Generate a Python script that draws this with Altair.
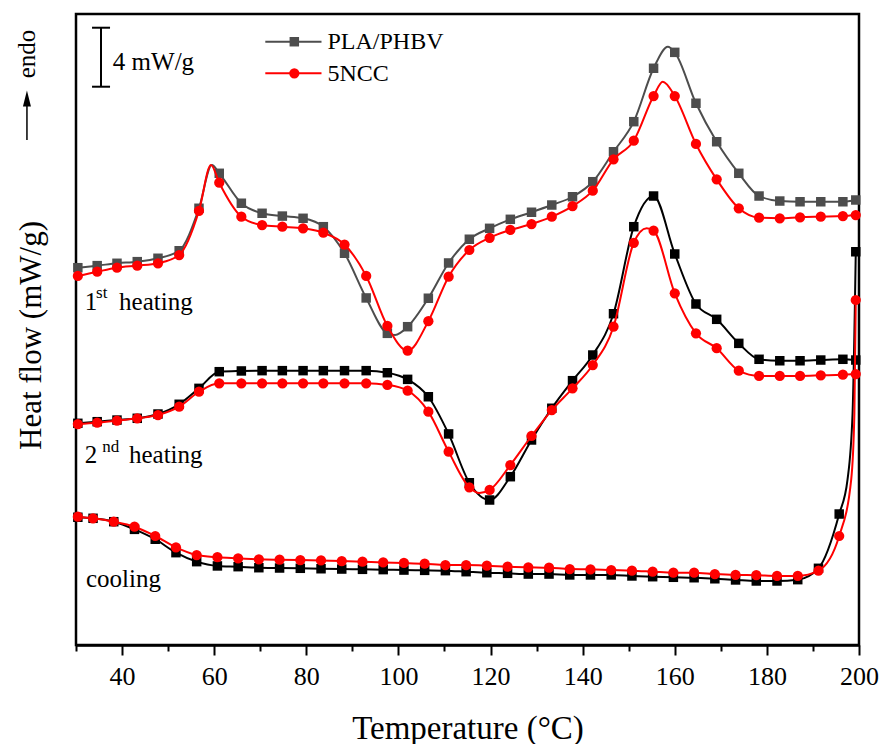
import altair as alt
import pandas as pd

# ---------------- data ----------------
heat_T = [30.4, 34.6, 38.9, 43.3, 47.8, 52.4, 56.7, 61.1, 65.9, 70.4,
          74.8, 79.3, 83.7, 88.3, 93.0, 97.6, 102.0, 106.5, 110.9, 115.4,
          119.8, 124.3, 128.9, 133.3, 137.8, 142.2, 146.7, 151.1, 155.4, 160.0,
          164.6, 169.1, 173.9, 178.3, 182.8, 187.2, 191.7, 196.5, 199.3]

h1_pla = [25.58, 25.72, 25.88, 25.99, 26.22, 26.73, 29.61, 31.98, 29.95, 29.27,
          29.08, 28.93, 28.36, 26.56, 23.53, 21.13, 21.58, 23.51, 25.90, 27.51,
          28.25, 28.86, 29.34, 29.83, 30.39, 31.41, 33.44, 35.48, 39.10, 40.18,
          36.73, 34.12, 31.98, 30.44, 30.10, 30.05, 30.05, 30.05, 30.17]
h1_ncc = [25.02, 25.31, 25.58, 25.72, 25.88, 26.44, 29.44, 31.34, 29.04, 28.47,
          28.36, 28.25, 27.95, 27.15, 25.02, 21.63, 19.95, 21.95, 24.97, 26.78,
          27.61, 28.14, 28.54, 29.04, 29.76, 30.80, 32.93, 34.19, 37.22, 37.22,
          33.97, 31.57, 29.61, 28.97, 28.93, 29.00, 29.04, 29.08, 29.15]
h2_pla = [15.03, 15.14, 15.25, 15.37, 15.66, 16.32, 17.40, 18.53, 18.58, 18.60,
          18.60, 18.60, 18.60, 18.60, 18.60, 18.46, 18.01, 16.83, 14.31, 11.00,
          9.83, 11.41, 13.90, 16.05, 17.92, 19.66, 22.46, 28.36, 30.44, 26.51,
          23.12, 22.08, 20.45, 19.37, 19.27, 19.27, 19.32, 19.37, 19.32]
h2_ncc = [14.98, 15.07, 15.21, 15.37, 15.59, 16.16, 17.17, 17.74, 17.74, 17.74,
          17.74, 17.74, 17.74, 17.74, 17.74, 17.63, 17.24, 15.82, 13.11, 10.69,
          10.51, 12.20, 14.17, 15.93, 17.40, 18.98, 21.58, 27.27, 28.09, 23.84,
          21.13, 20.12, 18.60, 18.24, 18.24, 18.24, 18.28, 18.33, 18.37]

cool_T = [30.4, 33.7, 38.2, 42.7, 47.2, 51.7, 56.2, 60.7, 65.2, 69.7,
          74.2, 78.7, 83.2, 87.7, 92.2, 96.7, 101.2, 105.7, 110.2, 114.7,
          119.2, 123.7, 128.2, 132.7, 137.2, 141.7, 146.2, 150.7, 155.2, 159.7,
          164.2, 168.7, 173.2, 177.7, 182.2, 186.7, 191.2, 195.7, 199.3]
cool_pla = [8.66, 8.59, 8.36, 7.84, 7.17, 6.26, 5.65, 5.36, 5.31, 5.24,
            5.22, 5.20, 5.17, 5.15, 5.13, 5.11, 5.08, 5.06, 5.04, 4.97,
            4.90, 4.86, 4.81, 4.81, 4.75, 4.75, 4.75, 4.68, 4.63, 4.59,
            4.56, 4.49, 4.41, 4.34, 4.34, 4.43, 5.20, 8.88, 26.66]
cool_ncc = [8.70, 8.59, 8.36, 8.02, 7.39, 6.62, 6.10, 5.95, 5.88, 5.81,
            5.78, 5.76, 5.73, 5.69, 5.65, 5.60, 5.56, 5.51, 5.42, 5.42,
            5.38, 5.31, 5.27, 5.24, 5.15, 5.13, 5.08, 5.04, 4.97, 4.90,
            4.90, 4.81, 4.75, 4.73, 4.68, 4.68, 5.04, 7.39, 23.39]

# extra curve points between symbols (peaks, minima, fast rise)
h1_pla_extra_T = [59.5, 99.3, 158.5]
h1_pla_extra_V = [32.54, 21.02, 40.56]
h1_ncc_extra_T = [59.3, 157.4]
h1_ncc_extra_V = [32.54, 38.19]
h2_ncc_extra_T = [117.6, 153.9]
h2_ncc_extra_V = [10.30, 28.25]
cool_pla_extra_T = [197.5, 198.6]
cool_pla_extra_V = [11.2, 15.7]
cool_ncc_extra_T = [198.3, 199.0]
cool_ncc_extra_V = [11.2, 15.7]

PLA_KEYS = ["h1_pla", "h2_pla", "c_pla"]
NCC_KEYS = ["h1_ncc", "h2_ncc", "c_ncc"]
COLORS = {"h1_pla": "#4d4d4d", "h2_pla": "#000000", "c_pla": "#000000",
          "h1_ncc": "#ff0000", "h2_ncc": "#ff0000", "c_ncc": "#ff0000"}

rows = []
def add(key, Ts, Vs, marker):
    for t, v in zip(Ts, Vs):
        rows.append({"series": key, "T": t, "V": v, "marker": marker})

add("h1_pla", heat_T, h1_pla, True)
add("h1_ncc", heat_T, h1_ncc, True)
add("h2_pla", heat_T, h2_pla, True)
add("h2_ncc", heat_T, h2_ncc, True)
add("c_pla", cool_T, cool_pla, True)
add("c_ncc", cool_T, cool_ncc, True)
add("h1_pla", h1_pla_extra_T, h1_pla_extra_V, False)
add("h1_ncc", h1_ncc_extra_T, h1_ncc_extra_V, False)
add("h2_ncc", h2_ncc_extra_T, h2_ncc_extra_V, False)
add("c_pla", cool_pla_extra_T, cool_pla_extra_V, False)
add("c_ncc", cool_ncc_extra_T, cool_ncc_extra_V, False)
df = pd.DataFrame(rows).sort_values(["series", "T"]).reset_index(drop=True)

keys = list(COLORS.keys())
color_scale = alt.Scale(domain=keys, range=[COLORS[k] for k in keys])

FONT = "Liberation Serif"
xs = alt.Scale(domain=[30, 200], nice=False, zero=False)
ys = alt.Scale(domain=[0, 42.78], nice=False, zero=False)

x_enc = alt.X("T:Q", scale=xs, axis=alt.Axis(
    values=list(range(30, 201, 10)),
    labelExpr="datum.value % 20 === 0 ? datum.label : ''",
    tickSize={"condition": {"test": "datum.value % 20 === 0", "value": 10}, "value": 6},
    tickWidth=2, tickColor="black", domainColor="black", domainWidth=2.5,
    labelFontSize=26, labelPadding=8, labelFlush=False, labelOverlap=False,
    title="Temperature (°C)", titleFontSize=33, titlePadding=23, grid=False))
y_enc = alt.Y("V:Q", scale=ys, axis=alt.Axis(
    labels=False, ticks=False, domain=False, grid=False,
    title="Heat flow (mW/g)", titleFontSize=31, titlePadding=29, titleY=321))

base = alt.Chart(df)

def lines(keyset):
    return base.transform_filter(
        alt.FieldOneOfPredicate(field="series", oneOf=keyset)
    ).mark_line(strokeWidth=2, interpolate="monotone").encode(
        x=x_enc, y=y_enc,
        color=alt.Color("series:N", scale=color_scale, legend=None))

pla_pts = base.transform_filter(
    alt.FieldOneOfPredicate(field="series", oneOf=PLA_KEYS)
).transform_filter("datum.marker").mark_square(size=90, opacity=1).encode(
    x="T:Q", y="V:Q", color=alt.Color("series:N", scale=color_scale, legend=None))
ncc_pts = base.transform_filter(
    alt.FieldOneOfPredicate(field="series", oneOf=NCC_KEYS)
).transform_filter("datum.marker").mark_circle(size=105, opacity=1).encode(
    x="T:Q", y="V:Q", color=alt.Color("series:N", scale=color_scale, legend=None))

# ---------------- annotations ----------------
ann = pd.DataFrame({
    "text": ["1", "st", "heating", "2", "nd", "heating", "cooling",
             "4 mW/g", "PLA/PHBV", "5NCC"],
    "T": [31.9, 34.35, 39.35, 31.9, 35.7, 41.5, 32.17, 38.00, 84.6, 84.6],
    "V": [22.71, 23.53, 22.71, 12.34, 13.08, 12.34, 3.93, 38.98, 40.41, 38.24],
    "fs": [25, 17, 25, 25, 17, 25, 25, 25, 24, 24],
})
ann_text = alt.Chart(ann).mark_text(align="left", baseline="alphabetic", font=FONT,
                                    color="black").encode(
    x=alt.X("T:Q", scale=xs), y=alt.Y("V:Q", scale=ys), text="text:N",
    size=alt.Size("fs:Q", scale=None))

endo = alt.Chart(pd.DataFrame({"T": [21.1], "V": [40.07], "text": ["endo"]})).mark_text(
    angle=270, align="center", baseline="alphabetic", font=FONT, fontSize=25,
    color="black").encode(x=alt.X("T:Q", scale=xs), y=alt.Y("V:Q", scale=ys), text="text:N")

# rules: scale bar, legend lines, endo arrow shaft
rules_df = pd.DataFrame({
    "T": [35.43, 33.48, 33.48, 71.1, 71.1, 19.35],
    "T2": [35.43, 37.39, 37.39, 83.3, 83.3, 19.35],
    "V": [37.85, 41.85, 37.85, 40.90, 38.76, 34.24],
    "V2": [41.85, 41.85, 37.85, 40.90, 38.76, 36.90],
    "c": ["#000000", "#000000", "#000000", "#4d4d4d", "#ff0000", "#000000"],
    "w": [2, 2, 2, 2, 2, 1.5],
})
rules = alt.Chart(rules_df).mark_rule().encode(
    x=alt.X("T:Q", scale=xs), x2="T2:Q", y=alt.Y("V:Q", scale=ys), y2="V2:Q",
    color=alt.Color("c:N", scale=None), strokeWidth=alt.StrokeWidth("w:Q", scale=None))

leg_sq = alt.Chart(pd.DataFrame({"T": [77.4], "V": [40.90]})).mark_square(
    size=90, color="#4d4d4d", opacity=1).encode(x=alt.X("T:Q", scale=xs), y=alt.Y("V:Q", scale=ys))
leg_ci = alt.Chart(pd.DataFrame({"T": [77.4], "V": [38.76]})).mark_circle(
    size=105, color="#ff0000", opacity=1).encode(x=alt.X("T:Q", scale=xs), y=alt.Y("V:Q", scale=ys))
arrow_head = alt.Chart(pd.DataFrame({"T": [19.35], "V": [37.05]})).mark_point(
    shape="M0,-1L0.5,1L-0.5,1Z", size=256, filled=True, color="black", opacity=1).encode(
    x=alt.X("T:Q", scale=xs), y=alt.Y("V:Q", scale=ys))

chart = alt.layer(
    lines(PLA_KEYS), pla_pts, lines(NCC_KEYS), ncc_pts,
    rules, leg_sq, leg_ci, arrow_head, ann_text, endo
).properties(
    width=783, height=631,
    autosize=alt.AutoSizeParams(type="none"),
    padding={"left": 76, "top": 14, "right": 23, "bottom": 99},
    background="white",
).configure_view(stroke="black", strokeWidth=2.5).configure_axis(
    labelFont=FONT, titleFont=FONT, titleFontWeight="normal",
    labelColor="black", titleColor="black")

chart.save("out.html", embed_options={"renderer": "svg", "actions": False})
